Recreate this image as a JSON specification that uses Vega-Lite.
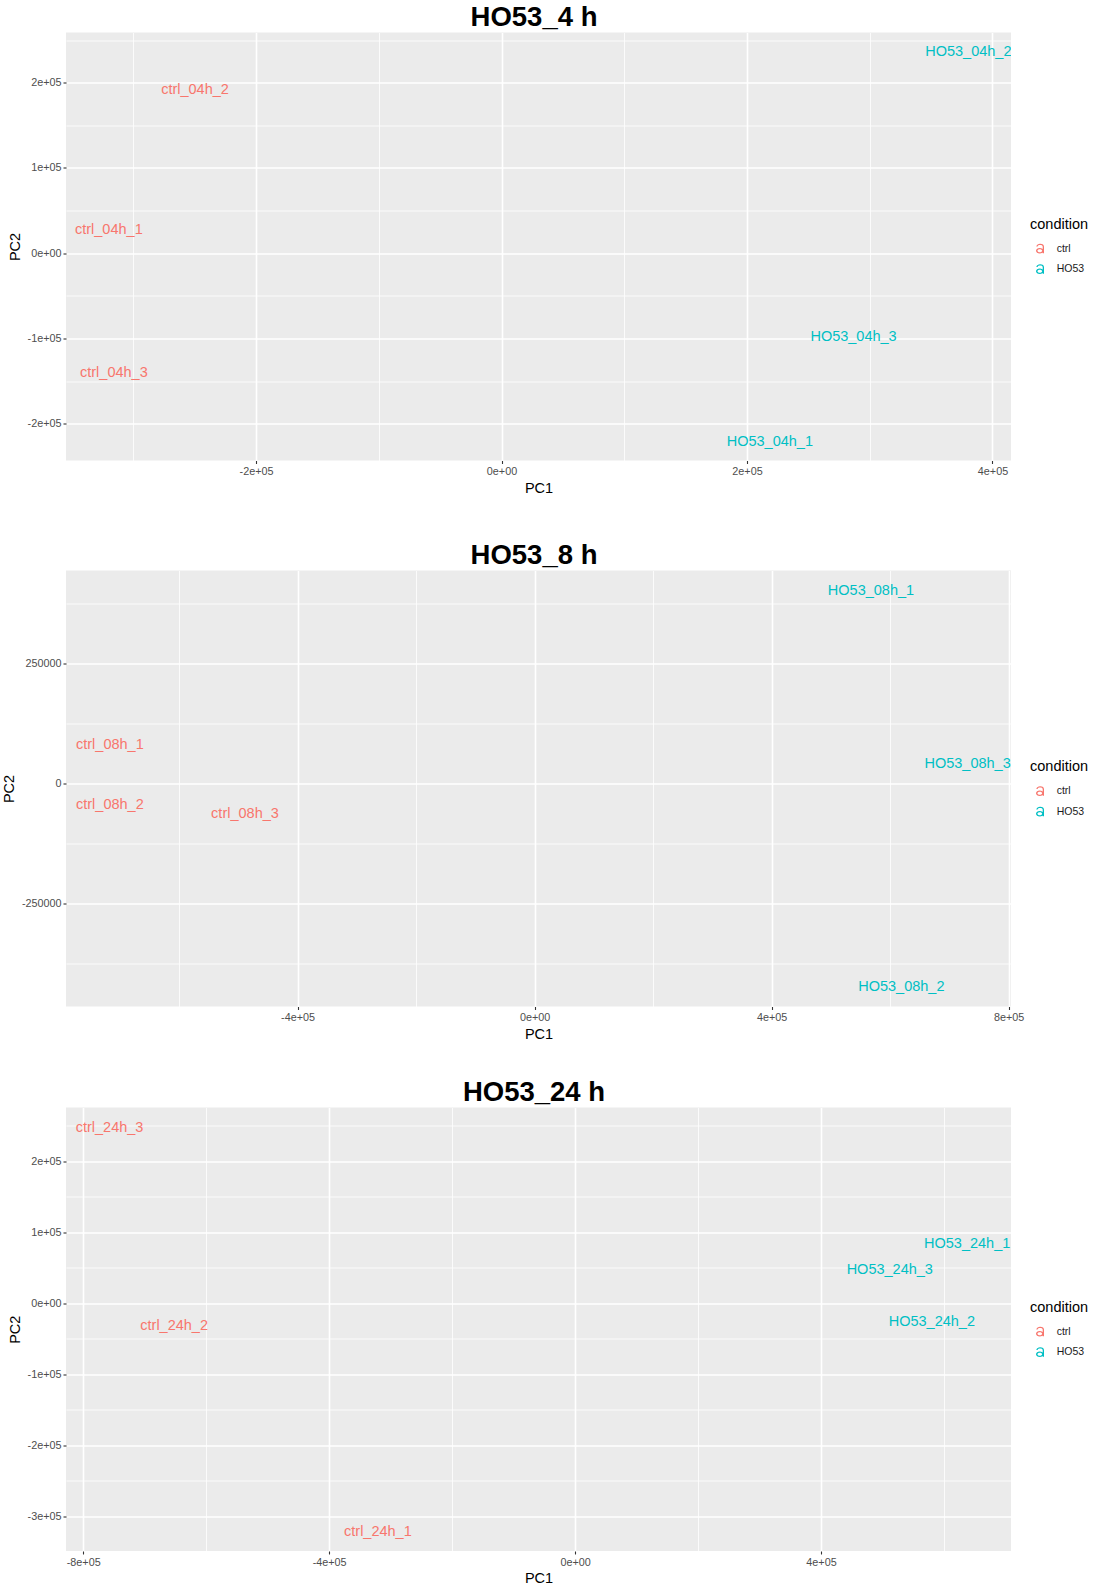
{
  "$schema": "https://vega.github.io/schema/vega-lite/v6.json",
  "padding": {"left": 1, "top": 3.5, "right": 5, "bottom": 3},
  "background": "white",
  "spacing": 37,
  "datasets": {
    "p4": [
      {"sample": "ctrl_04h_1", "condition": "ctrl", "PC1": -319900, "PC2": 27200},
      {"sample": "ctrl_04h_2", "condition": "ctrl", "PC1": -249700, "PC2": 191300},
      {"sample": "ctrl_04h_3", "condition": "ctrl", "PC1": -315800, "PC2": -140400},
      {"sample": "HO53_04h_1", "condition": "HO53", "PC1": 218600, "PC2": -221000},
      {"sample": "HO53_04h_2", "condition": "HO53", "PC1": 380300, "PC2": 236200},
      {"sample": "HO53_04h_3", "condition": "HO53", "PC1": 286800, "PC2": -97900}
    ],
    "p8": [
      {"sample": "ctrl_08h_1", "condition": "ctrl", "PC1": -716700, "PC2": 80400},
      {"sample": "ctrl_08h_2", "condition": "ctrl", "PC1": -716700, "PC2": -45700},
      {"sample": "ctrl_08h_3", "condition": "ctrl", "PC1": -488700, "PC2": -63000},
      {"sample": "HO53_08h_1", "condition": "HO53", "PC1": 567600, "PC2": 400500},
      {"sample": "HO53_08h_2", "condition": "HO53", "PC1": 618900, "PC2": -421900},
      {"sample": "HO53_08h_3", "condition": "HO53", "PC1": 730600, "PC2": 40900}
    ],
    "p24": [
      {"sample": "ctrl_24h_1", "condition": "ctrl", "PC1": -320700, "PC2": -321700},
      {"sample": "ctrl_24h_2", "condition": "ctrl", "PC1": -652100, "PC2": -32000},
      {"sample": "ctrl_24h_3", "condition": "ctrl", "PC1": -757200, "PC2": 246500},
      {"sample": "HO53_24h_1", "condition": "HO53", "PC1": 637800, "PC2": 84100},
      {"sample": "HO53_24h_2", "condition": "HO53", "PC1": 580300, "PC2": -26300},
      {"sample": "HO53_24h_3", "condition": "HO53", "PC1": 511900, "PC2": 46900}
    ]
  },
  "resolve": {"scale": {"color": "independent", "x": "independent", "y": "independent"}},
  "vconcat": [
    {
      "title": "HO53_4 h",
      "width": 945,
      "height": 428,
      "data": {"name": "p4"},
      "mark": {"type": "text", "clip": true, "fontSize": 14.5, "font": "Liberation Sans"},
      "encoding": {
        "x": {"field": "PC1", "type": "quantitative",
          "scale": {"domain": [-354800, 415080], "nice": false, "zero": false},
          "axis": {"title": ["PC1", ""], "titleLineHeight": 9,
            "values": [-300000, -200000, -100000, 0, 100000, 200000, 300000, 400000],
            "labelExpr": "datum.value % 200000 !== 0 ? '' : datum.value === 0 ? '0e+00' : (datum.value / 100000) + 'e+05'",
            "gridWidth": {"condition": {"test": "datum.value % 200000 === 0", "value": 1.6}, "value": 0.8},
            "tickOpacity": {"condition": {"test": "datum.value % 200000 === 0", "value": 1}, "value": 0}}},
        "y": {"field": "PC2", "type": "quantitative",
          "scale": {"domain": [-243260, 258850], "nice": false, "zero": false},
          "axis": {"title": "PC2",
            "values": [-200000, -150000, -100000, -50000, 0, 50000, 100000, 150000, 200000, 250000],
            "labelExpr": "datum.value % 100000 !== 0 ? '' : datum.value === 0 ? '0e+00' : (datum.value / 100000) + 'e+05'",
            "gridWidth": {"condition": {"test": "datum.value % 100000 === 0", "value": 1.6}, "value": 0.8},
            "tickOpacity": {"condition": {"test": "datum.value % 100000 === 0", "value": 1}, "value": 0}}},
        "text": {"field": "sample"},
        "color": {"field": "condition", "type": "nominal",
          "scale": {"domain": ["ctrl", "HO53"], "range": ["#F8766D", "#00BFC4"]},
          "legend": {"title": "condition", "orient": "none", "legendX": 964, "legendY": 185}}
      }
    },
    {
      "title": "HO53_8 h",
      "width": 945,
      "height": 436,
      "data": {"name": "p8"},
      "mark": {"type": "text", "clip": true, "fontSize": 14.5, "font": "Liberation Sans"},
      "encoding": {
        "x": {"field": "PC1", "type": "quantitative",
          "scale": {"domain": [-790700, 803900], "nice": false, "zero": false},
          "axis": {"title": "PC1",
            "values": [-600000, -400000, -200000, 0, 200000, 400000, 600000, 800000],
            "labelExpr": "datum.value % 400000 !== 0 ? '' : datum.value === 0 ? '0e+00' : (datum.value / 100000) + 'e+05'",
            "gridWidth": {"condition": {"test": "datum.value % 400000 === 0", "value": 1.6}, "value": 0.8},
            "tickOpacity": {"condition": {"test": "datum.value % 400000 === 0", "value": 1}, "value": 0}}},
        "y": {"field": "PC2", "type": "quantitative",
          "scale": {"domain": [-463400, 442600], "nice": false, "zero": false},
          "axis": {"title": "PC2",
            "values": [-375000, -250000, -125000, 0, 125000, 250000, 375000],
            "labelExpr": "datum.value % 250000 !== 0 ? '' : '' + datum.value",
            "gridWidth": {"condition": {"test": "datum.value % 250000 === 0", "value": 1.6}, "value": 0.8},
            "tickOpacity": {"condition": {"test": "datum.value % 250000 === 0", "value": 1}, "value": 0}}},
        "text": {"field": "sample"},
        "color": {"field": "condition", "type": "nominal",
          "scale": {"domain": ["ctrl", "HO53"], "range": ["#F8766D", "#00BFC4"]},
          "legend": {"title": "condition", "orient": "none", "legendX": 964, "legendY": 189.5}}
      }
    },
    {
      "title": "HO53_24 h",
      "width": 945,
      "height": 443.5,
      "data": {"name": "p24"},
      "mark": {"type": "text", "clip": true, "fontSize": 14.5, "font": "Liberation Sans"},
      "encoding": {
        "x": {"field": "PC1", "type": "quantitative",
          "scale": {"domain": [-828000, 709100], "nice": false, "zero": false},
          "axis": {"title": "PC1",
            "values": [-800000, -600000, -400000, -200000, 0, 200000, 400000, 600000],
            "labelExpr": "datum.value % 400000 !== 0 ? '' : datum.value === 0 ? '0e+00' : (datum.value / 100000) + 'e+05'",
            "gridWidth": {"condition": {"test": "datum.value % 400000 === 0", "value": 1.6}, "value": 0.8},
            "tickOpacity": {"condition": {"test": "datum.value % 400000 === 0", "value": 1}, "value": 0}}},
        "y": {"field": "PC2", "type": "quantitative",
          "scale": {"domain": [-348900, 275800], "nice": false, "zero": false},
          "axis": {"title": "PC2",
            "values": [-300000, -250000, -200000, -150000, -100000, -50000, 0, 50000, 100000, 150000, 200000, 250000],
            "labelExpr": "datum.value % 100000 !== 0 ? '' : datum.value === 0 ? '0e+00' : (datum.value / 100000) + 'e+05'",
            "gridWidth": {"condition": {"test": "datum.value % 100000 === 0", "value": 1.6}, "value": 0.8},
            "tickOpacity": {"condition": {"test": "datum.value % 100000 === 0", "value": 1}, "value": 0}}},
        "text": {"field": "sample"},
        "color": {"field": "condition", "type": "nominal",
          "scale": {"domain": ["ctrl", "HO53"], "range": ["#F8766D", "#00BFC4"]},
          "legend": {"title": "condition", "orient": "none", "legendX": 964, "legendY": 193}}
      }
    }
  ],
  "config": {
    "font": "Liberation Sans",
    "view": {"fill": "#EBEBEB", "stroke": null},
    "title": {"font": "Liberation Sans", "fontSize": 27.5, "fontWeight": "bold", "color": "#000000", "anchor": "middle", "frame": "group", "baseline": "alphabetic", "offset": 1.2, "dx": -4.5},
    "axis": {
      "domain": false,
      "grid": true,
      "gridColor": "#FFFFFF",
      "labelFont": "Liberation Sans",
      "labelFontSize": 10.8,
      "labelColor": "#4D4D4D",
      "labelPadding": 2,
      "labelOverlap": false,
      "labelFlush": false,
      "tickColor": "#333333",
      "tickSize": 3,
      "tickWidth": 1.1,
      "titleFont": "Liberation Sans",
      "titleFontSize": 14.5,
      "titleFontWeight": "normal",
      "titleColor": "#000000"
    },
    "axisX": {"titlePadding": 5},
    "axisY": {"titlePadding": 5},
    "legend": {
      "titleFont": "Liberation Sans",
      "titleFontSize": 14.5,
      "titleFontWeight": "normal",
      "titleColor": "#000000",
      "titlePadding": 6.5,
      "labelFont": "Liberation Sans",
      "labelFontSize": 10.5,
      "labelColor": "#1A1A1A",
      "labelOffset": 6.7,
      "symbolType": "M -0.37 -0.2 C -0.33 -0.4 -0.18 -0.48 0.01 -0.48 C 0.27 -0.48 0.4 -0.38 0.4 -0.18 L 0.27 -0.18 C 0.27 -0.3 0.18 -0.35 0.01 -0.35 C -0.12 -0.35 -0.21 -0.31 -0.24 -0.2 Z M 0.27 -0.2 L 0.4 -0.2 L 0.4 0.48 L 0.27 0.48 Z M -0.4 0.22 A 0.37 0.27 0 1 1 0.34 0.22 A 0.37 0.27 0 1 1 -0.4 0.22 Z M -0.26 0.23 A 0.24 0.15 0 1 0 0.22 0.23 A 0.24 0.15 0 1 0 -0.26 0.23 Z",
      "symbolSize": 400,
      "symbolStrokeWidth": 0,
      "symbolOpacity": 1,
      "clipHeight": 20,
      "rowPadding": 0.5
    }
  }
}
